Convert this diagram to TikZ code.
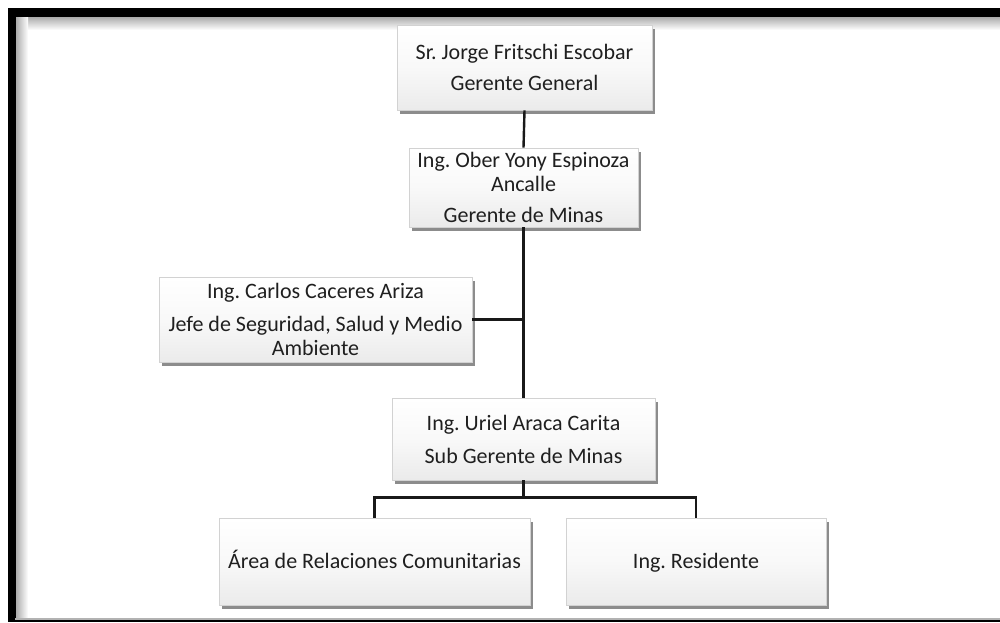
\documentclass[tikz,border=0pt]{standalone}
\usepackage{fontspec}
\setmainfont{Carlito}
\frenchspacing
\usetikzlibrary{shadows,calc}
\tikzset{
  orgbox/.style={draw=gray!35, line width=0.6pt, top color=white, bottom color=gray!16,
    middle color=gray!5, align=center, inner sep=0pt, text=black!88,
    font=\fontsize{22}{24}\selectfont,
    drop shadow={shadow xshift=2.5pt, shadow yshift=-4pt, fill=black!60, opacity=0.75}},
  link/.style={draw=black!90, line width=2.4pt}
}
\begin{document}
\begin{tikzpicture}[x=1pt,y=-1pt]
\useasboundingbox (0,0) rectangle (1000,622);
\fill[white] (0,0) rectangle (1000,622);
% frame
\shade[top color=gray!70, bottom color=white] (15,30) rectangle (1000,16);
\shade[left color=gray!70, right color=white] (15,16) rectangle (28,619);
\fill[black] (8,8) rectangle (1000,16.5);
\fill[black] (8,8) rectangle (15.5,622);
\fill[gray!60] (15,617.5) rectangle (1000,619.5);
\fill[black] (8,619.5) rectangle (1000,622);
% nodes
\node[orgbox, minimum width=255pt, minimum height=85pt] (b1) at (524.5,67.5)
  {Sr. Jorge Fritschi Escobar\\[7pt]Gerente General};
\node[orgbox, minimum width=229pt, minimum height=79pt] (b2) at (523.5,187.5)
  {Ing. Ober Yony Espinoza\\Ancalle\\[7pt]Gerente de Minas};
\node[orgbox, minimum width=313pt, minimum height=85pt] (b3) at (315.5,319.5)
  {Ing. Carlos Caceres Ariza\\[9pt]Jefe de Seguridad, Salud y Medio\\Ambiente};
\node[orgbox, minimum width=263pt, minimum height=82pt] (b4) at (523.5,439)
  {Ing. Uriel Araca Carita\\[9pt]Sub Gerente de Minas};
\node[orgbox, minimum width=311pt, minimum height=87pt] (b5) at (374.5,561.5)
  {\vphantom{Áy}Área de Relaciones Comunitarias};
\node[orgbox, minimum width=260pt, minimum height=87pt] (b6) at (696,561.5)
  {\vphantom{Áy}Ing. Residente};
% connectors
\coordinate (j1) at (b2.south |- b3.east);
\coordinate (j2) at ($(b4.south)+(0,17)$);
\draw[link] (b1.south) -- (b2.north);
\draw[link] (b2.south) -- (b4.north);
\draw[link] (b3.east) -- (j1);
\draw[link] (b4.south) -- (j2);
\draw[link] (j2) -| (b5.north);
\draw[link] (j2) -| (b6.north);
\end{tikzpicture}
\end{document}
